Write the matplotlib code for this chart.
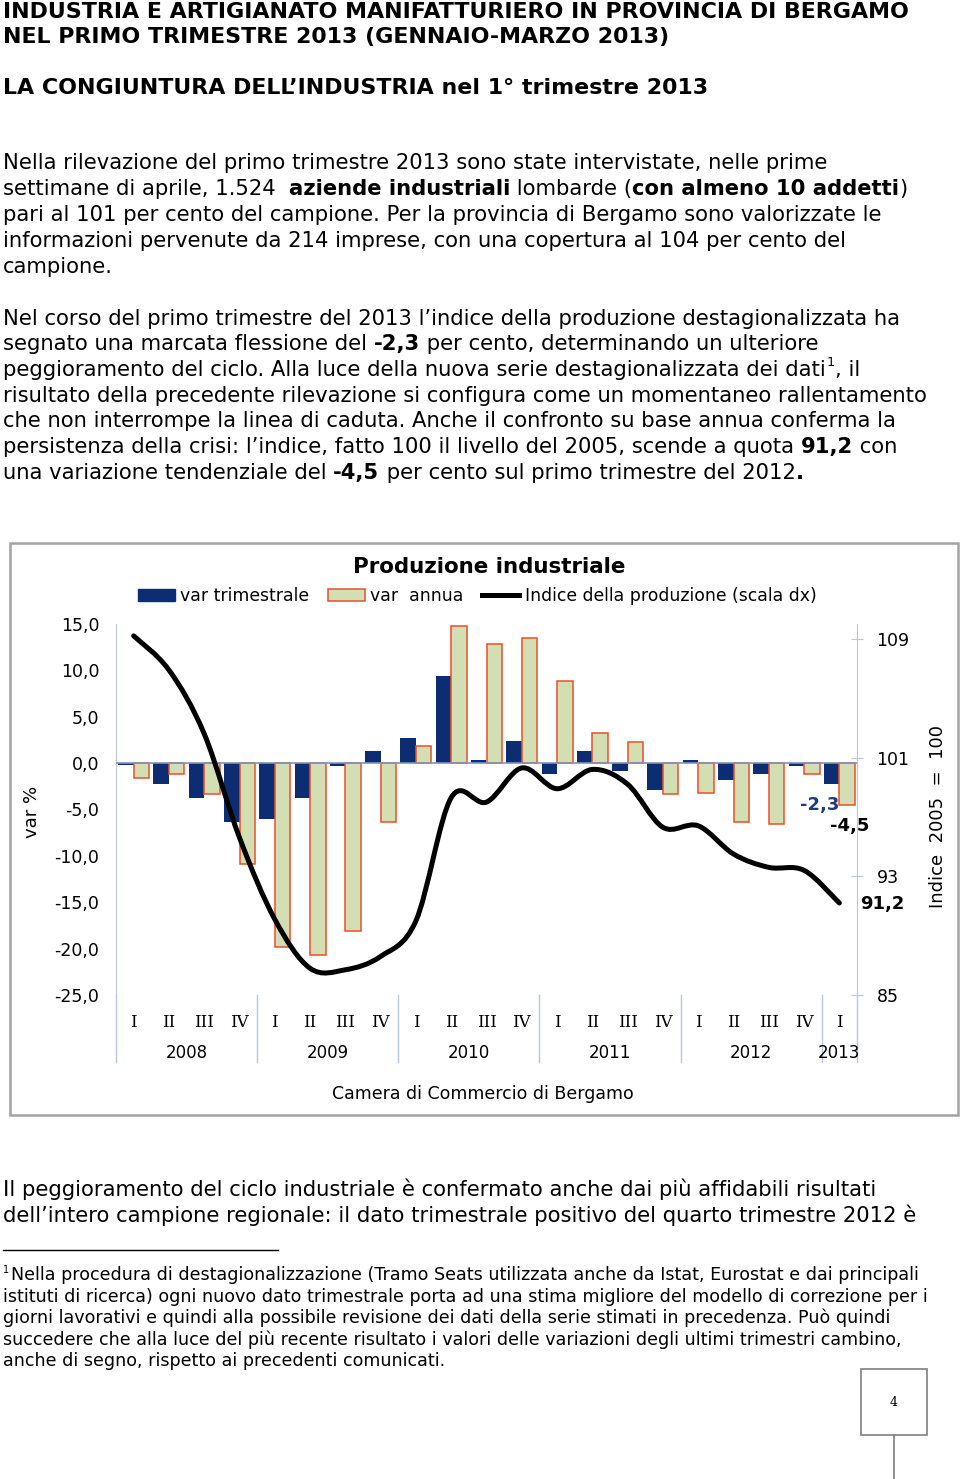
import matplotlib
matplotlib.use('Agg')
import matplotlib.pyplot as plt
from matplotlib.patches import Rectangle, PathPatch, Patch
from matplotlib.path import Path
from matplotlib.lines import Line2D

plt.rcParams['font.family'] = ['DejaVu Sans']

W, H = 960, 1479

# data
quarters = ['I', 'II', 'III', 'IV'] * 5 + ['I']
years = ['2008', '2009', '2010', '2011', '2012', '2013']
year_pos = [1.5, 5.5, 9.5, 13.5, 17.5, 20]
var_trim = [-0.2, -2.3, -3.8, -6.4, -6.0, -3.8, -0.3, 1.3, 2.7, 9.4, 0.3,
            2.4, -1.2, 1.3, -0.8, -2.9, 0.3, -1.8, -1.2, -0.3, -2.3]
var_annua = [-1.6, -1.2, -3.3, -10.9, -19.8, -20.7, -18.1, -6.4, 1.9, 14.8, 12.8,
             13.5, 8.9, 3.3, 2.3, -3.3, -3.2, -6.4, -6.6, -1.2, -4.5]
indice = [109.2, 106.9, 102.6, 95.6, 90.1, 86.8, 86.7, 87.6, 90.0, 98.3, 98.0,
          100.3, 98.9, 100.2, 99.2, 96.3, 96.4, 94.5, 93.6, 93.4, 91.2]
left_ticks = [15, 10, 5, 0, -5, -10, -15, -20, -25]
right_ticks = [85, 93, 101, 109]

BLUE = '#0c2d72'
GREEN = '#d3dfb2'
ORANGE = '#e8502a'
AXC = '#b7c7de'

fig = plt.figure(figsize=(W / 100, H / 100), dpi=100)
r = fig.canvas.get_renderer()


def fx(x):
    return x / W


def fy(y):
    return 1 - y / H


def width_of(s, size, weight):
    a = fig.text(0, 0, 'x' + s + 'x', fontsize=size, fontweight=weight)
    b = fig.text(0, 0, 'xx', fontsize=size, fontweight=weight)
    w = a.get_window_extent(r).width - b.get_window_extent(r).width
    a.remove()
    b.remove()
    return w


def rich(x, y, parts, size):
    for s, wgt in parts:
        if s == '^1':
            fig.text(fx(x + 1), fy(y - 7), '1', fontsize=size * 0.6, va='center')
            x += width_of('1', size * 0.6, 'normal') + 1
            continue
        fig.text(fx(x), fy(y), s, fontsize=size, fontweight=wgt, va='center', ha='left')
        x += width_of(s, size, wgt)


# header
HS = 15.9
fig.text(fx(3), fy(17.5), 'INDUSTRIA E ARTIGIANATO MANIFATTURIERO IN PROVINCIA DI BERGAMO',
         fontsize=HS, fontweight='bold', va='baseline')
fig.text(fx(3), fy(43), 'NEL PRIMO TRIMESTRE 2013 (GENNAIO-MARZO 2013)',
         fontsize=HS, fontweight='bold', va='baseline')
fig.text(fx(3), fy(93.5), 'LA CONGIUNTURA DELL\u2019INDUSTRIA nel 1° trimestre 2013',
         fontsize=HS, fontweight='bold', va='baseline')

BS = 15.2
N, B = 'normal', 'bold'
para = [
    (163, [('Nella rilevazione del primo trimestre 2013 sono state intervistate, nelle prime', N)]),
    (189, [('settimane di aprile, 1.524  ', N), ('aziende industriali', B), (' lombarde (', N),
           ('con almeno 10 addetti', B), (')', N)]),
    (215, [('pari al 101 per cento del campione. Per la provincia di Bergamo sono valorizzate le', N)]),
    (241, [('informazioni pervenute da 214 imprese, con una copertura al 104 per cento del', N)]),
    (267, [('campione.', N)]),
    (319, [('Nel corso del primo trimestre del 2013 l\u2019indice della produzione destagionalizzata ha', N)]),
    (344, [('segnato una marcata flessione del ', N), ('-2,3', B),
           (' per cento, determinando un ulteriore', N)]),
    (370, [('peggioramento del ciclo. Alla luce della nuova serie destagionalizzata dei dati', N),
           ('^1', N), (', il', N)]),
    (396, [('risultato della precedente rilevazione si configura come un momentaneo rallentamento', N)]),
    (421, [('che non interrompe la linea di caduta. Anche il confronto su base annua conferma la', N)]),
    (447, [('persistenza della crisi: l\u2019indice, fatto 100 il livello del 2005, scende a quota ', N),
           ('91,2', B), (' con', N)]),
    (473, [('una variazione tendenziale del ', N), ('-4,5', B),
           (' per cento sul primo trimestre del 2012', N), ('.', B)]),
    (1189, [('Il peggioramento del ciclo industriale è confermato anche dai più affidabili risultati', N)]),
    (1215, [('dell\u2019intero campione regionale: il dato trimestrale positivo del quarto trimestre 2012 è', N)]),
]
for y, parts in para:
    rich(3, y, parts, BS)

# footnote
fig.add_artist(Line2D([fx(3), fx(278)], [fy(1250), fy(1250)], color='black', lw=1))
FS = 12.6
fig.text(fx(3), fy(1270), '1', fontsize=7, va='center')
foot = [
    (1275, 'Nella procedura di destagionalizzazione (Tramo Seats utilizzata anche da Istat, Eurostat e dai principali'),
    (1297, 'istituti di ricerca) ogni nuovo dato trimestrale porta ad una stima migliore del modello di correzione per i'),
    (1318, 'giorni lavorativi e quindi alla possibile revisione dei dati della serie stimati in precedenza. Può quindi'),
    (1340, 'succedere che alla luce del più recente risultato i valori delle variazioni degli ultimi trimestri cambino,'),
    (1361, 'anche di segno, rispetto ai precedenti comunicati.'),
]
for y, s in foot:
    x0 = 11 if y == 1275 else 3
    fig.text(fx(x0), fy(y), s, fontsize=FS, va='center')

# page number box
fig.add_artist(Rectangle((fx(861), fy(1435)), fx(66), 66 / H, transform=fig.transFigure,
                         fill=False, ec='#7f7f7f', lw=1.2))
fig.text(fx(894), fy(1403), '4', fontsize=9, family='DejaVu Serif', ha='center', va='center')
fig.add_artist(Line2D([fx(894), fx(894)], [fy(1435), fy(1479)], color='#7f7f7f', lw=1.2))

# chart frame
fig.add_artist(Rectangle((fx(10), fy(1115)), fx(948), (1115 - 543) / H, transform=fig.transFigure,
                         fill=False, ec='#a3a3a3', lw=1.8))

ax = fig.add_axes([fx(116), fy(995), fx(857 - 116), (995 - 624) / H])
n = len(quarters)
xs = list(range(n))
ax.bar([x - 0.22 for x in xs], var_trim, width=0.44, color=BLUE, zorder=2)
ax.bar([x + 0.22 for x in xs], var_annua, width=0.44, color=GREEN, edgecolor=ORANGE,
       linewidth=1.1, zorder=2)
ax.axhline(0, color='#8194bb', lw=1.2, zorder=3)
ax.set_xlim(-0.5, n - 0.5)
ax.set_ylim(-25, 15)
ax.set_yticks(left_ticks)
ax.set_yticklabels([f'{v:.1f}'.replace('.', ',') for v in left_ticks])
ax.tick_params(axis='y', length=0, pad=12, labelsize=12.5)
ax.set_xticks(xs)
ax.set_xticklabels(quarters, family='DejaVu Serif')
ax.tick_params(axis='x', length=0, pad=14, labelsize=12)
for s in ['top', 'bottom', 'right']:
    ax.spines[s].set_visible(False)
ax.spines['left'].set_color(AXC)
ax.patch.set_visible(False)

trans = ax.get_xaxis_transform()
for xp in [-0.5, 3.5, 7.5, 11.5, 15.5, 19.5, n - 0.5]:
    ax.plot([xp, xp], [0, -0.18], transform=trans, color=AXC, lw=1, clip_on=False)
for yr, p in zip(years, year_pos):
    ax.text(p, -0.157, yr, transform=trans, ha='center', va='center', fontsize=12)

ax2 = ax.twinx()
ax2.set_ylim(85, 110)
ax2.set_yticks(right_ticks)
ax2.tick_params(axis='y', direction='inout', length=8, color=AXC, pad=10, labelsize=12.5)
for s in ['top', 'bottom', 'left']:
    ax2.spines[s].set_visible(False)
ax2.spines['right'].set_color(AXC)

# smoothed index line drawn as bezier path through the points
pts = list(zip(xs, indice))
verts = [pts[0]]
codes = [Path.MOVETO]
for i in range(len(pts) - 1):
    p0 = pts[i - 1] if i > 0 else pts[i]
    p1 = pts[i]
    p2 = pts[i + 1]
    p3 = pts[i + 2] if i + 2 < len(pts) else pts[i + 1]
    c1 = (p1[0] + (p2[0] - p0[0]) / 6, p1[1] + (p2[1] - p0[1]) / 6)
    c2 = (p2[0] - (p3[0] - p1[0]) / 6, p2[1] - (p3[1] - p1[1]) / 6)
    verts += [c1, c2, p2]
    codes += [Path.CURVE4] * 3
ax2.add_patch(PathPatch(Path(verts, codes), fill=False, ec='black', lw=3.6,
                        capstyle='round', joinstyle='round', zorder=4))

ax.text(19.45, -4.5, '-2,3', color='#1f3c78', fontsize=13, fontweight='bold',
        ha='center', va='center', clip_on=False)
ax.text(20.3, -6.8, '-4,5', color='black', fontsize=13, fontweight='bold',
        ha='center', va='center', clip_on=False)
ax2.text(21.22, 91.1, '91,2', color='black', fontsize=13, fontweight='bold',
         ha='center', va='center', clip_on=False)

fig.text(fx(32), fy(812), 'var %', rotation=90, fontsize=13, ha='center', va='center')
fig.text(fx(938), fy(817), 'Indice  2005  =  100', rotation=90, fontsize=13,
         ha='center', va='center')
fig.text(fx(489), fy(567), 'Produzione industriale', fontsize=15.4, fontweight='bold',
         ha='center', va='center')
fig.text(fx(483), fy(1094), 'Camera di Commercio di Bergamo', fontsize=12.5,
         ha='center', va='center')

handles = [Patch(facecolor=BLUE, edgecolor=BLUE),
           Patch(facecolor=GREEN, edgecolor=ORANGE, linewidth=1.1),
           Line2D([], [], color='black', lw=3.6)]
labels = ['var trimestrale', 'var  annua', 'Indice della produzione (scala dx)']
fig.legend(handles, labels, loc='center', bbox_to_anchor=(fx(477), fy(596)), ncol=3,
           frameon=False, fontsize=12.4, handlelength=2.15, handleheight=0.75,
           handletextpad=0.3, columnspacing=1.1)

fig.savefig('out.png', dpi=100)
